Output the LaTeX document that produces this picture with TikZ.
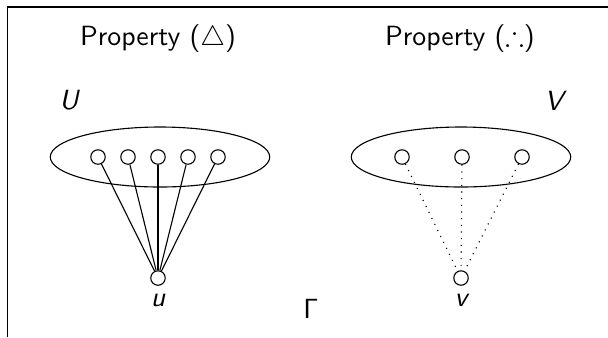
\documentclass[tikz,border=0pt]{standalone}
\usepackage{amsmath,amssymb}
\usetikzlibrary{shapes.geometric}
\tikzset{
  vtx/.style={draw,circle,inner sep=0pt,minimum size=5.2pt},
  blob/.style={draw,ellipse,inner sep=0pt,minimum width=79pt,minimum height=21.6pt},
  setlbl/.style={font=\sffamily\itshape,anchor=base},
  head/.style={font=\sffamily,anchor=base},
}
\begin{document}
\begin{tikzpicture}[x=0.36pt,y=-0.36pt]
\useasboundingbox (0,0) rectangle (608,337);
\draw (7.5,337) -- (7.5,7) -- (608,7);
% titles
\node[head] (headU) at (158,45) {Property ($\triangle$)};
\node[head] (headV) at (460,45) {Property ($\therefore$)};
\node[setlbl] (lblU) at (69,109) {U};
\node[setlbl] (lblV) at (554,110) {V};
% left side
\node[blob] (setU) at (160,157) {};
\node[vtx] (u) at (158,278) {};
\node[setlbl] (lblu) at (158,306) {u};
\foreach \i in {0,...,4} {
  \node[vtx] (a\i) at (98+30*\i,157) {};
  \draw (a\i) -- (u);
}
% right side
\node[blob] (setV) at (461,157) {};
\node[vtx] (v) at (461,278) {};
\node[setlbl] (lblv) at (461,306) {v};
\foreach \i in {0,1,2} {
  \node[vtx] (b\i) at (402+60*\i,157) {};
  \draw[dotted] (b\i) -- (v);
}
\node[anchor=base] (gam) at (311,318) {$\mathsf{\Gamma}$};
\end{tikzpicture}
\end{document}
